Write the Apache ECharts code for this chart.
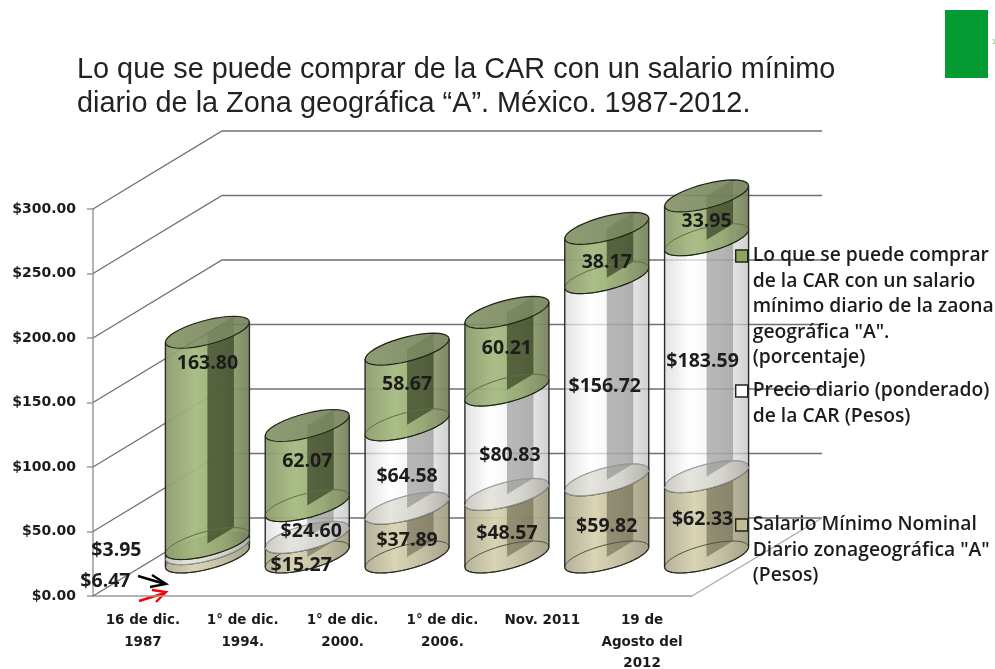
<!DOCTYPE html>
<html>
<head>
<meta charset="utf-8">
<title>CAR</title>
<style>
html, body { margin: 0; padding: 0; background: #fff; }
#myChart { width: 995px; height: 669px; }
</style>
<script src="https://cdn.jsdelivr.net/npm/echarts@6/dist/echarts.min.js"></script>
</head>
<body>
<div id="myChart"></div>
<script>
var categories = ['16 de dic.\n1987', '1° de dic.\n1994.', '1° de dic.\n2000.', '1° de dic.\n2006.', 'Nov. 2011', '19 de\nAgosto del\n2012'];
var salario = [6.47, 15.27, 37.89, 48.57, 59.82, 62.33];
var precio = [3.95, 24.60, 64.58, 80.83, 156.72, 183.59];
var porcentaje = [163.80, 62.07, 58.67, 60.21, 38.17, 33.95];
var yTicks = [0, 50, 100, 150, 200, 250, 300];

var nameSalario = 'Salario Mínimo Nominal Diario zonageográfica "A" (Pesos)';
var namePrecio = 'Precio diario (ponderado) de la CAR (Pesos)';
var namePorcentaje = 'Lo que se puede comprar de la CAR con un salario mínimo diario de la zaona geográfica "A". (porcentaje)';

// saltos de linea de la leyenda
var legendLines = {};
legendLines[nameSalario] = ['Salario Mínimo Nominal', 'Diario zonageográfica "A"', '(Pesos)'];
legendLines[namePrecio] = ['Precio diario (ponderado)', 'de la CAR (Pesos)'];
legendLines[namePorcentaje] = ['Lo que se puede comprar', 'de la CAR con un salario', 'mínimo diario de la zaona', 'geográfica "A".', '(porcentaje)'];

// ajuste de las etiquetas respecto al centro de cada tramo
var shiftSalario = [[-102, 28], [-6, 17], [0, 7], [0, 7], [0, 7], [-4, 2]];
var shiftPrecio = [[-91, 3], [4, 9], [0, 9], [3, 12], [-2, 7], [-4, 2]];
var shiftPorcentaje = [[0, -75], [0, -5], [0, -4], [0, -4], [0, 8], [0, 3]];

var DEPTH_X = 129, DEPTH_Y = -78;   // fondo del grafico 3D
var RX = 32.6, SKEW_X = 26.5, SKEW_Y = -16;   // elipse del cilindro
var T0 = Math.atan2(SKEW_X, RX);
var LABEL_FONT = '"Open Sans", sans-serif';
var AXIS_FONT = '"DejaVu Sans", sans-serif';

function ellipsePoint(cx, cy, t) {
    return [cx + RX * Math.cos(t) + SKEW_X * Math.sin(t), cy + SKEW_Y * Math.sin(t)];
}
function arc(cx, cy, from, to) {
    var pts = [];
    for (var i = 0; i <= 36; i++) {
        pts.push(ellipsePoint(cx, cy, from + (to - from) * i / 36));
    }
    return pts;
}
function sideFill(stops) {
    return new echarts.graphic.LinearGradient(0, 0, 1, 0, stops);
}

function cylinderSeries(name, values, bases, look, shift, prefix) {
    var data = [];
    for (var i = 0; i < values.length; i++) {
        data.push([i, bases[i], bases[i] + values[i]]);
    }
    return {
        type: 'custom',
        name: name,
        data: data,
        encode: { x: 0, y: [1, 2] },
        itemStyle: { color: look.legend },
        renderItem: function (params, api) {
            var i = api.value(0);
            var p0 = api.coord([i, api.value(1)]);
            var p1 = api.coord([i, api.value(2)]);
            var cx = p0[0] + DEPTH_X / 2, yb = p0[1] + DEPTH_Y / 2, yt = p1[1] + DEPTH_Y / 2;
            var front = arc(cx, yb, T0, T0 - Math.PI);
            var backTop = arc(cx, yt, T0 - Math.PI, T0);
            var topFull = arc(cx, yt, 0, Math.PI * 2);
            var bottomFull = arc(cx, yb, 0, Math.PI * 2);
            var right0 = ellipsePoint(cx, yb, T0), right1 = ellipsePoint(cx, yt, T0);
            var left0 = ellipsePoint(cx, yb, T0 - Math.PI), left1 = ellipsePoint(cx, yt, T0 - Math.PI);
            var val = values[i];
            return {
                type: 'group',
                children: [
                    { type: 'polygon', shape: { points: front.concat(backTop) }, style: { fill: sideFill(look.body), stroke: 'none' } },
                    { type: 'polygon', shape: { points: [[cx, yb], [cx + SKEW_X, yb + SKEW_Y], [cx + SKEW_X, yt + SKEW_Y], [cx, yt]] }, style: { fill: look.band, stroke: 'none' } },
                    { type: 'polyline', shape: { points: bottomFull }, style: { fill: 'none', stroke: look.seam, lineWidth: 1 } },
                    { type: 'polygon', shape: { points: topFull }, style: { fill: sideFill(look.top), stroke: look.rim, lineWidth: 1.2 } },
                    { type: 'polyline', shape: { points: front }, style: { fill: 'none', stroke: look.rim, lineWidth: 1.2 } },
                    { type: 'line', shape: { x1: left0[0], y1: left0[1], x2: left1[0], y2: left1[1] }, style: { stroke: '#2a2a2a', lineWidth: 1.4 } },
                    { type: 'line', shape: { x1: right0[0], y1: right0[1], x2: right1[0], y2: right1[1] }, style: { stroke: '#2a2a2a', lineWidth: 1.4 } },
                    {
                        type: 'text',
                        z2: 100,
                        style: {
                            text: prefix + val.toFixed(2),
                            x: cx + shift[i][0],
                            y: (yb + yt) / 2 + shift[i][1] + 1,
                            align: 'center',
                            verticalAlign: 'middle',
                            fontFamily: LABEL_FONT,
                            fontWeight: 'bold',
                            fontSize: 19.5,
                            fill: '#1c1c1c'
                        }
                    }
                ]
            };
        }
    };
}

// paredes: lineas de la escala que siguen hasta el fondo
function wallSeries() {
    return {
        type: 'custom',
        silent: true,
        data: yTicks.map(function (v) { return [0, v]; }),
        encode: { x: 0, y: 1 },
        renderItem: function (params, api) {
            var p = api.coord([0, api.value(1)]);
            var band = api.size([1, 0])[0];
            var x0 = p[0] - band / 2;
            var x1 = x0 + band * categories.length;
            var kids = [{
                type: 'polyline',
                shape: { points: [[x0, p[1]], [x0 + DEPTH_X, p[1] + DEPTH_Y], [x1 + DEPTH_X + 1, p[1] + DEPTH_Y]] },
                style: { fill: 'none', stroke: '#707070', lineWidth: 1.3 }
            }];
            if (api.value(1) === 0) {
                kids.push({
                    type: 'line',
                    shape: { x1: x1, y1: p[1], x2: x1 + DEPTH_X + 1, y2: p[1] + DEPTH_Y },
                    style: { stroke: '#a8a8a8', lineWidth: 1.2 }
                });
            }
            return { type: 'group', children: kids };
        }
    };
}

function legendAt(name, color, firstLineY) {
    var lh = 25.5;
    var n = legendLines[name].length;
    return {
        data: [{ name: name, icon: 'rect', itemStyle: { color: color, borderColor: '#222', borderWidth: 1.4 } }],
        left: 735,
        top: firstLineY - (n - 1) * lh - lh / 2 - 2,
        padding: 0,
        itemWidth: 12,
        itemHeight: 12,
        itemGap: 0,
        selectedMode: false,
        textStyle: { fontFamily: LABEL_FONT, fontWeight: 600, fontSize: 19.3, lineHeight: lh, color: '#1c1c1c', padding: [4, 0, 0, 0] },
        formatter: function (nm) {
            // lineas vacias delante: el cuadro queda a la altura de la primera linea
            var lines = legendLines[nm];
            var pad = [];
            for (var k = 1; k < lines.length; k++) { pad.push(''); }
            return pad.concat(lines).join('\n');
        }
    };
}

var basesPrecio = salario.slice();
var basesPorcentaje = salario.map(function (v, i) { return v + precio[i]; });

var option = {
    backgroundColor: '#fff',
    animation: false,
    title: {
        text: 'Lo que se puede comprar de la CAR con un salario mínimo\ndiario de la Zona geográfica “A”. México. 1987-2012.',
        left: 77,
        top: 53,
        padding: 0,
        textStyle: { fontFamily: '"Liberation Sans", Arial, sans-serif', fontWeight: 'normal', fontSize: 28.85, lineHeight: 34, color: '#222' }
    },
    legend: [
        legendAt(namePorcentaje, '#8fa45f', 256),
        legendAt(namePrecio, '#ffffff', 391),
        legendAt(nameSalario, '#c2bc92', 525)
    ],
    grid: { left: 93, right: 303, top: 209, bottom: 73, outerBoundsMode: 'none' },
    xAxis: {
        type: 'category',
        data: categories,
        axisLine: { lineStyle: { color: '#9a9a9a', width: 1.5 } },
        axisTick: { length: 6, lineStyle: { color: '#9a9a9a', width: 1.5 } },
        axisLabel: { interval: 0, margin: 14, lineHeight: 21.5, fontFamily: AXIS_FONT, fontWeight: 'bold', fontSize: 13.5, color: '#1c1c1c' }
    },
    yAxis: {
        type: 'value',
        min: 0,
        max: 300,
        interval: 50,
        splitLine: { show: false },
        axisLine: { show: true, lineStyle: { color: '#9a9a9a', width: 1.5 } },
        axisTick: { show: true, length: 6, lineStyle: { color: '#9a9a9a', width: 1.5 } },
        axisLabel: {
            margin: 17,
            padding: [3, 0, 0, 0],
            fontFamily: AXIS_FONT,
            fontWeight: 'bold',
            fontSize: 14,
            color: '#1c1c1c',
            formatter: function (v) { return '$' + v.toFixed(2); }
        }
    },
    series: [
        wallSeries(),
        cylinderSeries(nameSalario, salario, salario.map(function () { return 0; }), {
            legend: '#c2bc92',
            body: [{ offset: 0, color: 'rgba(176,173,148,0.95)' }, { offset: 0.35, color: 'rgba(214,210,176,0.95)' }, { offset: 0.7, color: 'rgba(190,186,156,0.95)' }, { offset: 1, color: 'rgba(160,157,132,0.95)' }],
            top: [{ offset: 0, color: 'rgba(165,162,135,0.95)' }, { offset: 1, color: 'rgba(140,137,115,0.95)' }],
            band: 'rgba(85,83,60,0.5)',
            seam: '#55533f',
            rim: '#2a2a22'
        }, shiftSalario, '$'),
        cylinderSeries(namePrecio, precio, basesPrecio, {
            legend: '#ffffff',
            body: [{ offset: 0, color: 'rgba(215,215,215,0.72)' }, { offset: 0.3, color: 'rgba(255,255,255,0.72)' }, { offset: 0.7, color: 'rgba(235,235,235,0.72)' }, { offset: 1, color: 'rgba(190,190,190,0.72)' }],
            top: [{ offset: 0, color: 'rgba(255,255,255,0)' }, { offset: 1, color: 'rgba(255,255,255,0)' }],
            band: 'rgba(120,120,120,0.5)',
            seam: '#9a9a9a',
            rim: 'rgba(0,0,0,0)'
        }, shiftPrecio, '$'),
        cylinderSeries(namePorcentaje, porcentaje, basesPorcentaje, {
            legend: '#8fa45f',
            body: [{ offset: 0, color: 'rgba(140,155,110,0.94)' }, { offset: 0.35, color: 'rgba(166,186,127,0.94)' }, { offset: 0.7, color: 'rgba(150,168,115,0.94)' }, { offset: 1, color: 'rgba(118,128,92,0.94)' }],
            top: [{ offset: 0, color: 'rgba(130,145,100,0.9)' }, { offset: 1, color: 'rgba(115,128,88,0.9)' }],
            band: 'rgba(40,48,22,0.62)',
            seam: '#5f7040',
            rim: '#1e2414'
        }, shiftPorcentaje, '')
    ],
    graphic: [
        // recuadro verde de la lamina
        { type: 'rect', shape: { x: 945, y: 10, width: 43, height: 68 }, style: { fill: '#059b33' } },
        { type: 'text', style: { text: '1', x: 992, y: 39, fontSize: 7, fill: '#7fb56a' } },
        // flechas junto a la primera columna
        { type: 'polyline', shape: { points: [[138, 576], [165, 584]] }, style: { stroke: '#000', lineWidth: 2.4, fill: 'none' } },
        { type: 'polyline', shape: { points: [[152, 575], [166, 584], [150, 587]] }, style: { stroke: '#000', lineWidth: 2.4, fill: 'none' } },
        { type: 'polyline', shape: { points: [[139, 601], [165, 593]] }, style: { stroke: '#f00', lineWidth: 2.4, fill: 'none' } },
        { type: 'polyline', shape: { points: [[152, 590], [166, 592], [156, 602]] }, style: { stroke: '#f00', lineWidth: 2.4, fill: 'none' } }
    ]
};

var myChart = echarts.init(document.getElementById('myChart'));
myChart.setOption(option);
window.onresize = myChart.resize;
</script>
</body>
</html>
